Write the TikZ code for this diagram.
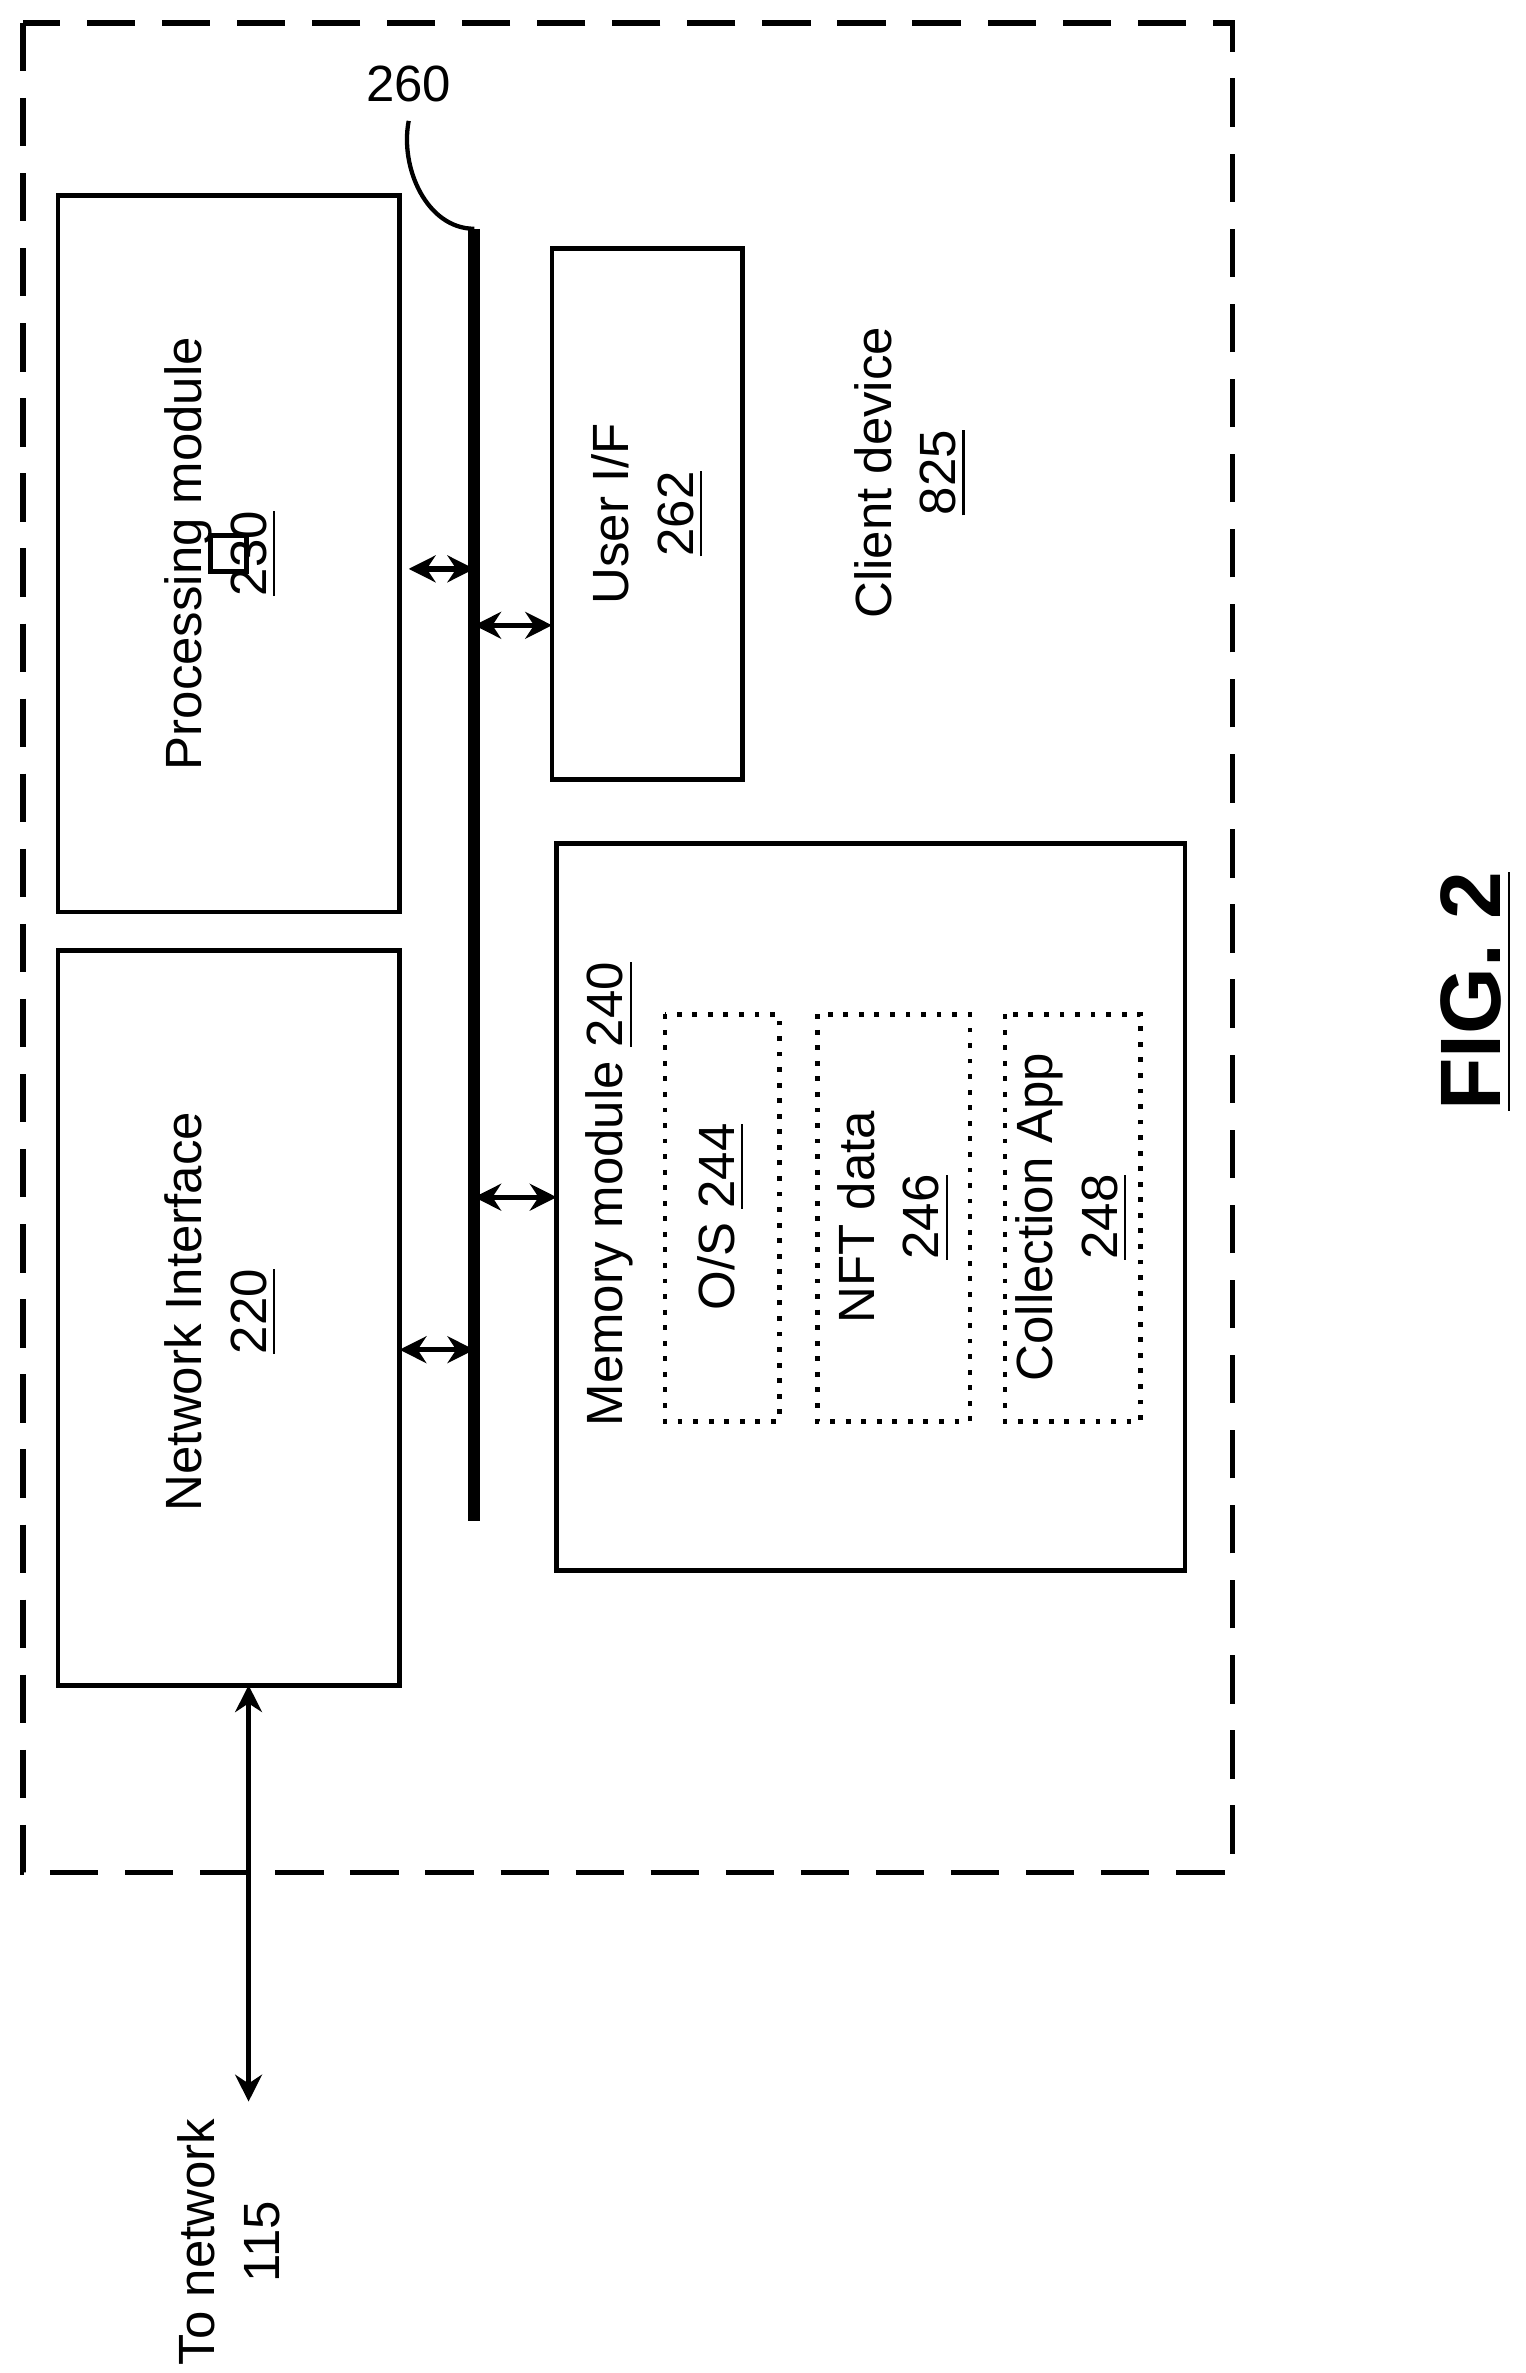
\documentclass[tikz,border=0pt]{standalone}
\usepackage{fontspec}
\setmainfont{Liberation Sans}
\usetikzlibrary{arrows.meta}
\begin{document}
\begin{tikzpicture}[x=0.01cm,y=-0.01cm,
  box/.style={draw,line width=0.9pt},
  dbox/.style={draw,line width=0.9pt,dotted},
  lbl/.style={rotate=90,align=center,font=\fontsize{9.5pt}{12pt}\selectfont},
  dar/.style={line width=1pt,{Stealth[length=5pt,width=5pt]}-{Stealth[length=5pt,width=5pt]}}]
\useasboundingbox (0,0) rectangle (1000,1556);
\draw[line width=1pt,dash pattern=on 9pt off 5pt] (15,15) rectangle (808,1228);
\node[box,minimum width=0] (proc) at (150,363) {};
\draw[box] (38,128) rectangle (262,598);
\node[lbl] (proct) at (145,363) {Processing module\\\underline{230}};
\draw[box] (38,623) rectangle (262,1105);
\node[lbl] (nett) at (145,860) {Network Interface\\\underline{220}};
\draw[box] (362,163) rectangle (487,511);
\node[lbl] (uift) at (425,337) {User I/F\\\underline{262}};
\draw[box] (365,553) rectangle (777,1030);
\node[lbl,anchor=center] (memt) at (400,783) {Memory module \underline{240}};
\draw[dbox] (436,665) rectangle (511,932);
\node[lbl] (ost) at (473,798) {O/S \underline{244}};
\draw[dbox] (536,665) rectangle (636,932);
\node[lbl] (nftt) at (586,798) {NFT data\\\underline{246}};
\draw[dbox] (659,665) rectangle (748,932);
\node[lbl] (colt) at (703,798) {Collection App\\\underline{248}};
\node[lbl] (client) at (597,310) {Client device\\\underline{825}};
\coordinate (bt) at (311,150); \coordinate (bb) at (311,997);
\draw[line width=2.2pt] (bt) -- (bb);
\node[font=\fontsize{9.5pt}{12pt}\selectfont] (l260) at (268,55) {260};
\draw[line width=0.8pt] (l260.south) .. controls (262,110) and (280,150) .. (bt);
\coordinate (a1) at (268,373); \coordinate (a1b) at (311,373);
\draw[dar] (a1) -- (a1b);
\coordinate (a2) at (311,410); \coordinate (a2b) at (362,410);
\draw[dar] (a2) -- (a2b);
\coordinate (a3) at (311,785); \coordinate (a3b) at (365,785);
\draw[dar] (a3) -- (a3b);
\coordinate (a4) at (262,885); \coordinate (a4b) at (311,885);
\draw[dar] (a4) -- (a4b);
\coordinate (n1) at (163,1105); \coordinate (n2) at (163,1378);
\draw[dar] (n1) -- (n2);
\node[lbl] (tonet) at (150,1470) {To network\\115};
\node[rotate=90,font=\fontsize{16pt}{19pt}\selectfont\bfseries] (fig) at (968,650) {\underline{FIG. 2}};
\end{tikzpicture}
\end{document}
